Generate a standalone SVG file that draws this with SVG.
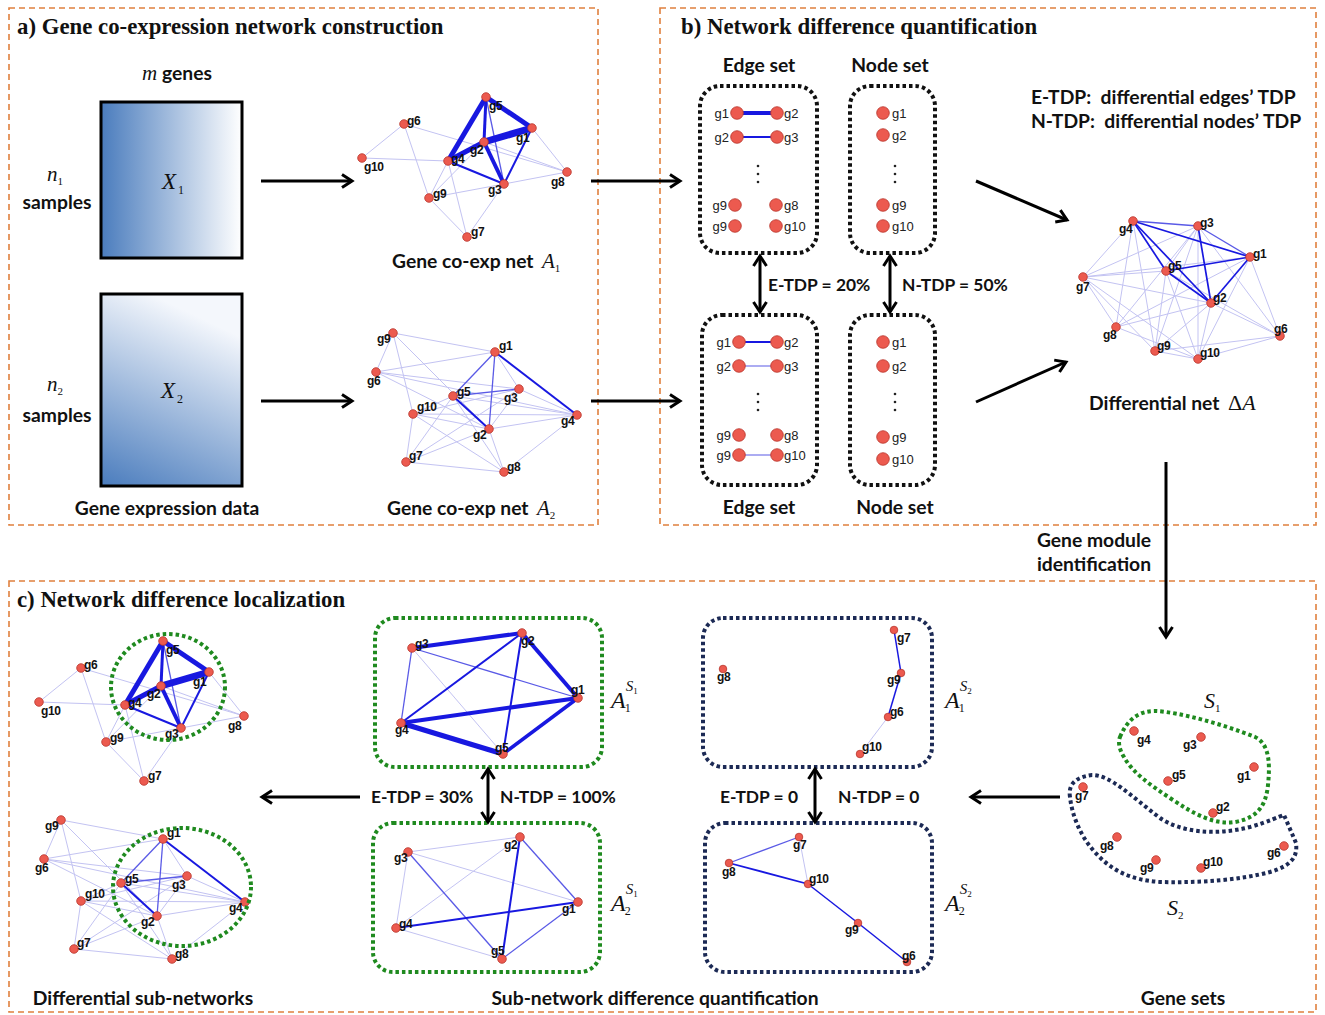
<svg xmlns="http://www.w3.org/2000/svg" xmlns:xlink="http://www.w3.org/1999/xlink" width="1325" height="1015" viewBox="0 0 1325 1015">
<style>
.panel{fill:none;stroke:#e0803e;stroke-width:1.6;stroke-dasharray:6 4}
.title{font-family:"Liberation Serif",serif;font-weight:bold;font-size:22.8px;fill:#111}
.cap{font-family:Lato,"Liberation Sans",sans-serif;font-weight:bold;font-size:19.3px;fill:#111}
.tdp{font-family:Lato,"Liberation Sans",sans-serif;font-weight:bold;font-size:17.4px;fill:#111}
.it{font-family:"Liberation Serif",serif;font-style:italic;fill:#111}
.sub{font-family:"Liberation Serif",serif;font-style:normal;fill:#111}
.nd{fill:#ec5a4f;stroke:#b8352c;stroke-width:0.8}
.nl{font-family:"Liberation Sans Narrow","Liberation Sans",sans-serif;font-weight:bold;font-size:12px;fill:#111;letter-spacing:-0.4px}
.sl{font-family:"Liberation Sans",sans-serif;font-size:13px;fill:#222}
.lt{stroke:#c3c3f2;stroke-width:1}
.md{stroke:#5a5ae6;stroke-width:1.3}
.st{stroke:#1818e0}
.box{fill:none;stroke:#111;stroke-width:4;stroke-dasharray:3.5 3}
.gbox{fill:none;stroke:#1f8a1f;stroke-width:4;stroke-dasharray:3.5 3}
.nbox{fill:none;stroke:#1c2a55;stroke-width:4;stroke-dasharray:3.5 3}
.arr{stroke:#000;stroke-width:3;fill:none}
</style>
<defs>
<linearGradient id="gx1" x1="0" y1="0" x2="1" y2="0">
<stop offset="0" stop-color="#4a7cbd"/><stop offset="1" stop-color="#ffffff"/>
</linearGradient>
<linearGradient id="gx2" x1="0" y1="1" x2="0.35" y2="0">
<stop offset="0" stop-color="#4a7cbd"/><stop offset="1" stop-color="#f4f7fc"/>
</linearGradient>
<marker id="ah" viewBox="0 0 16 16" refX="13" refY="8" markerWidth="16" markerHeight="16" markerUnits="userSpaceOnUse" orient="auto-start-reverse">
<path d="M3,1.5 L13,8 L3,14.5" fill="none" stroke="#000" stroke-width="3"/>
</marker>
</defs>
<rect width="1325" height="1015" fill="#fff"/>

<!-- panels -->
<g id="panels">
<rect class="panel" x="9" y="8" width="589" height="517"/>
<rect class="panel" x="660" y="8" width="656" height="517"/>
<rect class="panel" x="9" y="581" width="1307" height="431"/>
<text class="title" x="17" y="34">a) Gene co-expression network construction</text>
<text class="title" x="681" y="34">b) Network difference quantification</text>
<text class="title" x="17" y="607">c) Network difference localization</text>
</g>

<!-- panel a: matrices -->
<g id="matrixX1">
<rect x="101" y="102" width="141" height="156" fill="url(#gx1)" stroke="#000" stroke-width="3"/>
<text class="it" x="162" y="189" font-size="23">X<tspan class="sub" font-size="12" dx="2" dy="5">1</tspan></text>
<text x="177" y="80" class="cap" text-anchor="middle"><tspan class="it" font-size="21" font-weight="normal">m</tspan> genes</text>
<text class="it" x="47" y="181" font-size="21">n<tspan class="sub" font-size="11" dy="4">1</tspan></text>
<text class="cap" x="57" y="209" text-anchor="middle">samples</text>
</g>
<g id="matrixX2">
<rect x="101" y="294" width="141" height="192" fill="url(#gx2)" stroke="#000" stroke-width="3"/>
<text class="it" x="161" y="398" font-size="23">X<tspan class="sub" font-size="12" dx="2" dy="5">2</tspan></text>
<text class="it" x="47" y="391" font-size="21">n<tspan class="sub" font-size="11" dy="4">2</tspan></text>
<text class="cap" x="57" y="422" text-anchor="middle">samples</text>
<text class="cap" x="167" y="515" text-anchor="middle">Gene expression data</text>
</g>

<!-- network A1 -->
<g id="netA1">
<g id="netA1g">
<line class="lt" x1="404" y1="124" x2="362" y2="158"/>
<line class="lt" x1="362" y1="158" x2="448" y2="161"/>
<line class="lt" x1="404" y1="124" x2="429" y2="198"/>
<line class="lt" x1="404" y1="124" x2="567" y2="172"/>
<line class="lt" x1="448" y1="161" x2="429" y2="198"/>
<line class="lt" x1="429" y1="198" x2="504" y2="184"/>
<line class="lt" x1="429" y1="198" x2="467" y2="237"/>
<line class="lt" x1="448" y1="161" x2="467" y2="237"/>
<line class="lt" x1="504" y1="184" x2="467" y2="237"/>
<line class="lt" x1="504" y1="184" x2="567" y2="172"/>
<line class="lt" x1="532" y1="128" x2="567" y2="172"/>
<line class="lt" x1="484" y1="142" x2="567" y2="172"/>
<line class="lt" x1="429" y1="198" x2="484" y2="142"/>
<line class="md" x1="486" y1="97" x2="504" y2="184"/>
<line class="st" stroke-width="2" x1="448" y1="161" x2="504" y2="184"/>
<line class="st" stroke-width="2" x1="532" y1="128" x2="504" y2="184"/>
<line class="st" stroke-width="3" x1="486" y1="97" x2="484" y2="142"/>
<line class="st" stroke-width="4" x1="484" y1="142" x2="504" y2="184"/>
<line class="st" stroke-width="5" x1="486" y1="97" x2="448" y2="161"/>
<line class="st" stroke-width="5" x1="486" y1="97" x2="532" y2="128"/>
<line class="st" stroke-width="5" x1="484" y1="142" x2="448" y2="161"/>
<line class="st" stroke-width="7" x1="484" y1="142" x2="532" y2="128"/>
<circle class="nd" cx="486" cy="97" r="4.3"/><circle class="nd" cx="532" cy="128" r="4.3"/>
<circle class="nd" cx="484" cy="142" r="4.3"/><circle class="nd" cx="448" cy="161" r="4.3"/>
<circle class="nd" cx="504" cy="184" r="4.3"/><circle class="nd" cx="567" cy="172" r="4.3"/>
<circle class="nd" cx="404" cy="124" r="4.3"/><circle class="nd" cx="362" cy="158" r="4.3"/>
<circle class="nd" cx="429" cy="198" r="4.3"/><circle class="nd" cx="467" cy="237" r="4.3"/>
<text class="nl" x="489" y="110">g5</text><text class="nl" x="516" y="142">g1</text>
<text class="nl" x="470" y="154">g2</text><text class="nl" x="451" y="163">g4</text>
<text class="nl" x="488" y="194">g3</text><text class="nl" x="551" y="186">g8</text>
<text class="nl" x="407" y="125">g6</text><text class="nl" x="364" y="171">g10</text>
<text class="nl" x="433" y="198">g9</text><text class="nl" x="471" y="236">g7</text>
</g>
<text class="cap" x="392" y="268">Gene co-exp net</text>
<text class="it" x="542" y="268" font-size="21">A<tspan class="sub" font-size="11" dy="4">1</tspan></text>
</g>

<!-- network A2 -->
<g id="netA2">
<g id="netA2g">
<line class="lt" x1="393" y1="333" x2="495" y2="352"/>
<line class="lt" x1="393" y1="333" x2="376" y2="372"/>
<line class="lt" x1="393" y1="333" x2="413" y2="414"/>
<line class="lt" x1="393" y1="333" x2="489" y2="429"/>
<line class="lt" x1="376" y1="372" x2="495" y2="352"/>
<line class="lt" x1="376" y1="372" x2="519" y2="389"/>
<line class="lt" x1="376" y1="372" x2="489" y2="429"/>
<line class="lt" x1="376" y1="372" x2="577" y2="415"/>
<line class="lt" x1="413" y1="414" x2="519" y2="389"/>
<line class="lt" x1="413" y1="414" x2="577" y2="415"/>
<line class="lt" x1="413" y1="414" x2="489" y2="429"/>
<line class="lt" x1="413" y1="414" x2="406" y2="462"/>
<line class="lt" x1="413" y1="414" x2="504" y2="472"/>
<line class="lt" x1="406" y1="462" x2="453" y2="396"/>
<line class="lt" x1="406" y1="462" x2="519" y2="389"/>
<line class="lt" x1="406" y1="462" x2="504" y2="472"/>
<line class="lt" x1="406" y1="462" x2="489" y2="429"/>
<line class="lt" x1="489" y1="429" x2="504" y2="472"/>
<line class="lt" x1="453" y1="396" x2="504" y2="472"/>
<line class="lt" x1="577" y1="415" x2="504" y2="472"/>
<line class="lt" x1="489" y1="429" x2="577" y2="415"/>
<line class="lt" x1="519" y1="389" x2="577" y2="415"/>
<line class="lt" x1="495" y1="352" x2="519" y2="389"/>
<line class="lt" x1="453" y1="396" x2="577" y2="415"/>
<line class="lt" x1="453" y1="396" x2="413" y2="414"/>
<line class="lt" x1="519" y1="389" x2="489" y2="429"/>
<line class="md" x1="495" y1="352" x2="453" y2="396"/>
<line class="md" x1="495" y1="352" x2="489" y2="429"/>
<line class="md" x1="453" y1="396" x2="519" y2="389"/>
<line class="st" stroke-width="2" x1="495" y1="352" x2="577" y2="415"/>
<line class="st" stroke-width="2" x1="453" y1="396" x2="489" y2="429"/>
<circle class="nd" cx="393" cy="333" r="4.3"/><circle class="nd" cx="495" cy="352" r="4.3"/>
<circle class="nd" cx="376" cy="372" r="4.3"/><circle class="nd" cx="453" cy="396" r="4.3"/>
<circle class="nd" cx="519" cy="389" r="4.3"/><circle class="nd" cx="413" cy="414" r="4.3"/>
<circle class="nd" cx="577" cy="415" r="4.3"/><circle class="nd" cx="489" cy="429" r="4.3"/>
<circle class="nd" cx="406" cy="462" r="4.3"/><circle class="nd" cx="504" cy="472" r="4.3"/>
<text class="nl" x="377" y="343">g9</text><text class="nl" x="499" y="350">g1</text>
<text class="nl" x="367" y="385">g6</text><text class="nl" x="457" y="396">g5</text>
<text class="nl" x="504" y="402">g3</text><text class="nl" x="417" y="411">g10</text>
<text class="nl" x="561" y="425">g4</text><text class="nl" x="473" y="439">g2</text>
<text class="nl" x="409" y="460">g7</text><text class="nl" x="507" y="471">g8</text>
</g>
<text class="cap" x="387" y="515">Gene co-exp net</text>
<text class="it" x="537" y="515" font-size="21">A<tspan class="sub" font-size="11" dy="4">2</tspan></text>
</g>

<!-- panel b: sets -->
<g id="edgeSetTop">
<text class="cap" x="759" y="72" text-anchor="middle">Edge set</text>
<rect class="box" x="700" y="86" width="117" height="167" rx="20"/>
<line stroke="#1818e0" stroke-width="4" x1="737" y1="113" x2="777" y2="113"/>
<line stroke="#1818e0" stroke-width="2" x1="737" y1="137" x2="777" y2="137"/>
<circle class="nd" cx="737" cy="113" r="6.3"/><circle class="nd" cx="777" cy="113" r="6.3"/>
<circle class="nd" cx="737" cy="137" r="6.3"/><circle class="nd" cx="777" cy="137" r="6.3"/>
<circle class="nd" cx="735" cy="205" r="6.3"/><circle class="nd" cx="776" cy="205" r="6.3"/>
<circle class="nd" cx="735" cy="226" r="6.3"/><circle class="nd" cx="776" cy="226" r="6.3"/>
<text class="sl" x="729" y="118" text-anchor="end">g1</text><text class="sl" x="784" y="118">g2</text>
<text class="sl" x="729" y="142" text-anchor="end">g2</text><text class="sl" x="784" y="142">g3</text>
<text class="sl" x="727" y="210" text-anchor="end">g9</text><text class="sl" x="784" y="210">g8</text>
<text class="sl" x="727" y="231" text-anchor="end">g9</text><text class="sl" x="784" y="231">g10</text>
<circle cx="758" cy="166" r="1.3" fill="#222"/><circle cx="758" cy="174" r="1.3" fill="#222"/><circle cx="758" cy="182" r="1.3" fill="#222"/>
</g>
<g id="nodeSetTop">
<text class="cap" x="890" y="72" text-anchor="middle">Node set</text>
<rect class="box" x="850" y="86" width="85" height="167" rx="20"/>
<circle class="nd" cx="883" cy="113" r="6.3"/><circle class="nd" cx="883" cy="135" r="6.3"/>
<circle class="nd" cx="883" cy="205" r="6.3"/><circle class="nd" cx="883" cy="226" r="6.3"/>
<text class="sl" x="892" y="118">g1</text><text class="sl" x="892" y="140">g2</text>
<text class="sl" x="892" y="210">g9</text><text class="sl" x="892" y="231">g10</text>
<circle cx="895" cy="166" r="1.3" fill="#222"/><circle cx="895" cy="174" r="1.3" fill="#222"/><circle cx="895" cy="182" r="1.3" fill="#222"/>
</g>
<g id="edgeSetBottom">
<rect class="box" x="702" y="315" width="115" height="170" rx="20"/>
<line stroke="#1818e0" stroke-width="2" x1="739" y1="342" x2="777" y2="342"/>
<line stroke="#5a5ae6" stroke-width="1.2" x1="739" y1="366" x2="777" y2="366"/>
<line stroke="#5a5ae6" stroke-width="1.2" x1="739" y1="455" x2="777" y2="455"/>
<circle class="nd" cx="739" cy="342" r="6.3"/><circle class="nd" cx="777" cy="342" r="6.3"/>
<circle class="nd" cx="739" cy="366" r="6.3"/><circle class="nd" cx="777" cy="366" r="6.3"/>
<circle class="nd" cx="739" cy="435" r="6.3"/><circle class="nd" cx="777" cy="435" r="6.3"/>
<circle class="nd" cx="739" cy="455" r="6.3"/><circle class="nd" cx="777" cy="455" r="6.3"/>
<text class="sl" x="731" y="347" text-anchor="end">g1</text><text class="sl" x="784" y="347">g2</text>
<text class="sl" x="731" y="371" text-anchor="end">g2</text><text class="sl" x="784" y="371">g3</text>
<text class="sl" x="731" y="440" text-anchor="end">g9</text><text class="sl" x="784" y="440">g8</text>
<text class="sl" x="731" y="460" text-anchor="end">g9</text><text class="sl" x="784" y="460">g10</text>
<circle cx="758" cy="394" r="1.3" fill="#222"/><circle cx="758" cy="402" r="1.3" fill="#222"/><circle cx="758" cy="410" r="1.3" fill="#222"/>
<text class="cap" x="759" y="514" text-anchor="middle">Edge set</text>
</g>
<g id="nodeSetBottom">
<rect class="box" x="850" y="315" width="85" height="170" rx="20"/>
<circle class="nd" cx="883" cy="342" r="6.3"/><circle class="nd" cx="883" cy="366" r="6.3"/>
<circle class="nd" cx="883" cy="437" r="6.3"/><circle class="nd" cx="883" cy="459" r="6.3"/>
<text class="sl" x="892" y="347">g1</text><text class="sl" x="892" y="371">g2</text>
<text class="sl" x="892" y="442">g9</text><text class="sl" x="892" y="464">g10</text>
<circle cx="895" cy="394" r="1.3" fill="#222"/><circle cx="895" cy="402" r="1.3" fill="#222"/><circle cx="895" cy="410" r="1.3" fill="#222"/>
<text class="cap" x="895" y="514" text-anchor="middle">Node set</text>
</g>
<g id="legend">
<text class="cap" x="1031" y="104">E-TDP:&#160; differential edges’ TDP</text>
<text class="cap" x="1031" y="128">N-TDP:&#160; differential nodes’ TDP</text>
</g>

<!-- differential net -->
<g id="diffNet">
<line class="lt" x1="1083" y1="277" x2="1133" y2="221"/>
<line class="lt" x1="1083" y1="277" x2="1198" y2="226"/>
<line class="lt" x1="1083" y1="277" x2="1166" y2="271"/>
<line class="lt" x1="1083" y1="277" x2="1250" y2="257"/>
<line class="lt" x1="1083" y1="277" x2="1211" y2="303"/>
<line class="lt" x1="1083" y1="277" x2="1116" y2="327"/>
<line class="lt" x1="1083" y1="277" x2="1155" y2="351"/>
<line class="lt" x1="1083" y1="277" x2="1198" y2="359"/>
<line class="lt" x1="1116" y1="327" x2="1198" y2="226"/>
<line class="lt" x1="1116" y1="327" x2="1211" y2="303"/>
<line class="lt" x1="1116" y1="327" x2="1198" y2="359"/>
<line class="lt" x1="1116" y1="327" x2="1250" y2="257"/>
<line class="lt" x1="1116" y1="327" x2="1133" y2="221"/>
<line class="lt" x1="1155" y1="351" x2="1133" y2="221"/>
<line class="lt" x1="1155" y1="351" x2="1198" y2="226"/>
<line class="lt" x1="1155" y1="351" x2="1166" y2="271"/>
<line class="lt" x1="1155" y1="351" x2="1211" y2="303"/>
<line class="lt" x1="1155" y1="351" x2="1198" y2="359"/>
<line class="lt" x1="1155" y1="351" x2="1280" y2="336"/>
<line class="lt" x1="1198" y1="359" x2="1280" y2="336"/>
<line class="lt" x1="1198" y1="359" x2="1166" y2="271"/>
<line class="lt" x1="1198" y1="359" x2="1198" y2="226"/>
<line class="lt" x1="1198" y1="359" x2="1211" y2="303"/>
<line class="lt" x1="1198" y1="359" x2="1250" y2="257"/>
<line class="lt" x1="1280" y1="336" x2="1250" y2="257"/>
<line class="lt" x1="1280" y1="336" x2="1166" y2="271"/>
<line class="lt" x1="1280" y1="336" x2="1211" y2="303"/>
<line class="lt" x1="1280" y1="336" x2="1198" y2="226"/>
<line class="lt" x1="1166" y1="271" x2="1198" y2="226"/>
<line class="md" x1="1133" y1="221" x2="1198" y2="226"/>
<line class="md" x1="1198" y1="226" x2="1250" y2="257"/>
<line class="st" stroke-width="1.7" x1="1133" y1="221" x2="1166" y2="271"/>
<line class="st" stroke-width="1.7" x1="1133" y1="221" x2="1211" y2="303"/>
<line class="st" stroke-width="1.7" x1="1133" y1="221" x2="1250" y2="257"/>
<line class="st" stroke-width="1.7" x1="1166" y1="271" x2="1250" y2="257"/>
<line class="st" stroke-width="1.7" x1="1166" y1="271" x2="1211" y2="303"/>
<line class="st" stroke-width="1.7" x1="1198" y1="226" x2="1211" y2="303"/>
<line class="st" stroke-width="1.7" x1="1250" y1="257" x2="1211" y2="303"/>
<circle class="nd" cx="1133" cy="221" r="4.3"/><circle class="nd" cx="1198" cy="226" r="4.3"/>
<circle class="nd" cx="1250" cy="257" r="4.3"/><circle class="nd" cx="1166" cy="271" r="4.3"/>
<circle class="nd" cx="1083" cy="277" r="4.3"/><circle class="nd" cx="1211" cy="303" r="4.3"/>
<circle class="nd" cx="1116" cy="327" r="4.3"/><circle class="nd" cx="1280" cy="336" r="4.3"/>
<circle class="nd" cx="1155" cy="351" r="4.3"/><circle class="nd" cx="1198" cy="359" r="4.3"/>
<text class="nl" x="1119" y="233">g4</text><text class="nl" x="1200" y="227">g3</text>
<text class="nl" x="1253" y="258">g1</text><text class="nl" x="1168" y="270">g5</text>
<text class="nl" x="1076" y="291">g7</text><text class="nl" x="1213" y="302">g2</text>
<text class="nl" x="1103" y="339">g8</text><text class="nl" x="1274" y="333">g6</text>
<text class="nl" x="1157" y="350">g9</text><text class="nl" x="1200" y="357">g10</text>
<text class="cap" x="1089" y="410">Differential net</text>
<text x="1228" y="410" font-family="Liberation Serif,serif" font-size="22" fill="#111">Δ<tspan font-style="italic">A</tspan></text>
</g>

<!-- panel c -->
<g id="subnetTop">
<use xlink:href="#netA1g" href="#netA1g" transform="translate(-323,544)"/>
<ellipse cx="168" cy="687" rx="57" ry="53" fill="none" stroke="#1f8a1f" stroke-width="4" stroke-dasharray="3.5 3"/>
</g>
<g id="subnetBottom">
<use xlink:href="#netA2g" href="#netA2g" transform="translate(-332,487)"/>
<ellipse cx="182" cy="887" rx="69" ry="59" fill="none" stroke="#1f8a1f" stroke-width="4" stroke-dasharray="3.5 3"/>
<text class="cap" x="143" y="1005" text-anchor="middle">Differential sub-networks</text>
</g>

<g id="A1S1">
<rect class="gbox" x="375" y="618" width="227" height="149" rx="20"/>
<line class="lt" x1="412" y1="648" x2="503" y2="754"/>
<line class="md" x1="412" y1="648" x2="578" y2="698"/>
<line class="md" x1="412" y1="648" x2="401" y2="723"/>
<line class="st" stroke-width="2" x1="401" y1="723" x2="522" y2="633"/>
<line class="st" stroke-width="2" x1="522" y1="633" x2="503" y2="754"/>
<line class="st" stroke-width="4" x1="412" y1="648" x2="522" y2="633"/>
<line class="st" stroke-width="4" x1="522" y1="633" x2="578" y2="698"/>
<line class="st" stroke-width="3.5" x1="578" y1="698" x2="503" y2="754"/>
<line class="st" stroke-width="4" x1="401" y1="723" x2="578" y2="698"/>
<line class="st" stroke-width="5" x1="401" y1="723" x2="503" y2="754"/>
<circle class="nd" cx="412" cy="648" r="4.3"/><circle class="nd" cx="522" cy="633" r="4.3"/>
<circle class="nd" cx="578" cy="698" r="4.3"/><circle class="nd" cx="401" cy="723" r="4.3"/>
<circle class="nd" cx="503" cy="754" r="4.3"/>
<text class="nl" x="415" y="648">g3</text><text class="nl" x="521" y="645">g2</text>
<text class="nl" x="571" y="694">g1</text><text class="nl" x="395" y="734">g4</text>
<text class="nl" x="495" y="752">g5</text>
<text class="it" x="611" y="708" font-size="24">A<tspan class="sub" font-size="12" dy="4" dx="-1">1</tspan><tspan font-size="15" dx="-5" dy="-21">S</tspan><tspan class="sub" font-size="9" dy="3">1</tspan></text>
</g>
<g id="A2S1">
<rect class="gbox" x="373" y="823" width="227" height="149" rx="20"/>
<line class="lt" x1="408" y1="852" x2="520" y2="837"/>
<line class="lt" x1="408" y1="852" x2="578" y2="902"/>
<line class="lt" x1="396" y1="928" x2="520" y2="837"/>
<line class="lt" x1="408" y1="852" x2="396" y2="928"/>
<line class="lt" x1="396" y1="928" x2="502" y2="959"/>
<line class="md" x1="520" y1="837" x2="578" y2="902"/>
<line class="md" x1="408" y1="852" x2="502" y2="959"/>
<line class="md" x1="502" y1="959" x2="578" y2="902"/>
<line class="st" stroke-width="2" x1="396" y1="928" x2="578" y2="902"/>
<line class="st" stroke-width="2" x1="520" y1="837" x2="502" y2="959"/>
<circle class="nd" cx="520" cy="837" r="4.3"/><circle class="nd" cx="408" cy="852" r="4.3"/>
<circle class="nd" cx="578" cy="902" r="4.3"/><circle class="nd" cx="396" cy="928" r="4.3"/>
<circle class="nd" cx="502" cy="959" r="4.3"/>
<text class="nl" x="504" y="849">g2</text><text class="nl" x="394" y="862">g3</text>
<text class="nl" x="562" y="913">g1</text><text class="nl" x="399" y="928">g4</text>
<text class="nl" x="491" y="955">g5</text>
<text class="it" x="611" y="911" font-size="24">A<tspan class="sub" font-size="12" dy="4" dx="-1">2</tspan><tspan font-size="15" dx="-5" dy="-21">S</tspan><tspan class="sub" font-size="9" dy="3">1</tspan></text>
</g>
<g id="A1S2">
<rect class="nbox" x="703" y="618" width="229" height="149" rx="20"/>
<line class="lt" x1="888" y1="717" x2="860" y2="754"/>
<line class="st" stroke-width="1.5" x1="894" y1="630" x2="901" y2="673"/>
<line class="st" stroke-width="1.5" x1="901" y1="673" x2="888" y2="717"/>
<circle class="nd" cx="723" cy="669" r="3.8"/><circle class="nd" cx="894" cy="630" r="3.8"/>
<circle class="nd" cx="901" cy="673" r="3.8"/><circle class="nd" cx="888" cy="717" r="3.8"/>
<circle class="nd" cx="860" cy="754" r="3.8"/>
<text class="nl" x="717" y="681" font-size="10">g8</text><text class="nl" x="897" y="642" font-size="10">g7</text>
<text class="nl" x="887" y="684" font-size="10">g9</text><text class="nl" x="890" y="716" font-size="10">g6</text>
<text class="nl" x="862" y="751" font-size="10">g10</text>
<text class="it" x="945" y="708" font-size="24">A<tspan class="sub" font-size="12" dy="4" dx="-1">1</tspan><tspan font-size="15" dx="-5" dy="-21">S</tspan><tspan class="sub" font-size="9" dy="3">2</tspan></text>
</g>
<g id="A2S2">
<rect class="nbox" x="705" y="823" width="227" height="149" rx="20"/>
<line class="lt" x1="799" y1="837" x2="808" y2="884"/>
<line class="md" x1="729" y1="863" x2="799" y2="837"/>
<line class="st" stroke-width="1.8" x1="729" y1="863" x2="808" y2="884"/>
<line class="st" stroke-width="1.5" x1="808" y1="884" x2="858" y2="923"/>
<line class="st" stroke-width="1.5" x1="858" y1="923" x2="907" y2="962"/>
<circle class="nd" cx="799" cy="837" r="3.8"/><circle class="nd" cx="729" cy="863" r="3.8"/>
<circle class="nd" cx="808" cy="884" r="3.8"/><circle class="nd" cx="858" cy="923" r="3.8"/>
<circle class="nd" cx="907" cy="962" r="3.8"/>
<text class="nl" x="793" y="849" font-size="10">g7</text><text class="nl" x="722" y="876" font-size="10">g8</text>
<text class="nl" x="809" y="883" font-size="10">g10</text><text class="nl" x="845" y="934" font-size="10">g9</text>
<text class="nl" x="902" y="960" font-size="10">g6</text>
<text class="it" x="945" y="911" font-size="24">A<tspan class="sub" font-size="12" dy="4" dx="-1">2</tspan><tspan font-size="15" dx="-5" dy="-21">S</tspan><tspan class="sub" font-size="9" dy="3">2</tspan></text>
</g>
<g id="geneSets">
<path d="M1120,737 C1128,718 1140,711 1155,711 C1180,712 1225,725 1255,737 C1270,744 1270,765 1268,785 C1266,805 1258,818 1235,822 C1215,825 1195,815 1170,798 C1150,785 1132,772 1124,757 C1119,749 1118,742 1120,737 Z" fill="none" stroke="#1f8a1f" stroke-width="4" stroke-dasharray="3.5 3"/>
<path d="M1070,797 C1068,785 1075,777 1092,775 C1110,775 1130,795 1160,818 C1180,832 1215,836 1250,827 C1268,822 1280,816 1284,815 L1296,843 C1298,858 1290,866 1270,872 C1240,880 1200,883 1160,882 C1130,880 1110,870 1093,850 C1080,835 1072,815 1070,797 Z" fill="none" stroke="#1c2a55" stroke-width="4" stroke-dasharray="3.5 3"/>
<circle class="nd" cx="1134" cy="731" r="4.3"/><circle class="nd" cx="1201" cy="737" r="4.3"/>
<circle class="nd" cx="1168" cy="781" r="4.3"/><circle class="nd" cx="1254" cy="767" r="4.3"/>
<circle class="nd" cx="1213" cy="813" r="4.3"/><circle class="nd" cx="1083" cy="787" r="4.3"/>
<circle class="nd" cx="1117" cy="837" r="4.3"/><circle class="nd" cx="1156" cy="860" r="4.3"/>
<circle class="nd" cx="1201" cy="868" r="4.3"/><circle class="nd" cx="1284" cy="846" r="4.3"/>
<text class="nl" x="1137" y="744">g4</text><text class="nl" x="1183" y="749">g3</text>
<text class="nl" x="1172" y="779">g5</text><text class="nl" x="1237" y="780">g1</text>
<text class="nl" x="1216" y="811">g2</text><text class="nl" x="1075" y="800">g7</text>
<text class="nl" x="1100" y="850">g8</text><text class="nl" x="1140" y="872">g9</text>
<text class="nl" x="1203" y="866">g10</text><text class="nl" x="1267" y="857">g6</text>
<text class="it" x="1204" y="708" font-size="22">S<tspan class="sub" font-size="11" dy="4">1</tspan></text>
<text class="it" x="1167" y="915" font-size="22">S<tspan class="sub" font-size="11" dy="4">2</tspan></text>
<text class="cap" x="1183" y="1005" text-anchor="middle">Gene sets</text>
</g>

<text class="cap" x="655" y="1005" text-anchor="middle">Sub-network difference quantification</text>

<!-- connectors -->
<g id="connectors">
<line class="arr" x1="261" y1="181" x2="352" y2="181" marker-end="url(#ah)"/>
<line class="arr" x1="261" y1="401" x2="352" y2="401" marker-end="url(#ah)"/>
<line class="arr" x1="591" y1="181" x2="680" y2="181" marker-end="url(#ah)"/>
<line class="arr" x1="591" y1="401" x2="680" y2="401" marker-end="url(#ah)"/>
<line class="arr" x1="760" y1="256" x2="760" y2="312" marker-start="url(#ah)" marker-end="url(#ah)"/>
<line class="arr" x1="890" y1="256" x2="890" y2="312" marker-start="url(#ah)" marker-end="url(#ah)"/>
<text class="tdp" x="768" y="291">E-TDP = 20%</text>
<text class="tdp" x="902" y="291">N-TDP = 50%</text>
<line class="arr" x1="976" y1="181" x2="1067" y2="220" marker-end="url(#ah)"/>
<line class="arr" x1="976" y1="402" x2="1066" y2="362" marker-end="url(#ah)"/>
<line class="arr" x1="1166" y1="462" x2="1166" y2="637" marker-end="url(#ah)"/>
<text class="cap" x="1094" y="547" text-anchor="middle">Gene module</text>
<text class="cap" x="1094" y="571" text-anchor="middle">identification</text>
<line class="arr" x1="1060" y1="797" x2="971" y2="797" marker-end="url(#ah)"/>
<line class="arr" x1="815" y1="769" x2="815" y2="822" marker-start="url(#ah)" marker-end="url(#ah)"/>
<text class="tdp" x="720" y="803">E-TDP = 0</text>
<text class="tdp" x="838" y="803">N-TDP = 0</text>
<line class="arr" x1="488" y1="769" x2="488" y2="822" marker-start="url(#ah)" marker-end="url(#ah)"/>
<text class="tdp" x="371" y="803">E-TDP = 30%</text>
<text class="tdp" x="500" y="803">N-TDP = 100%</text>
<line class="arr" x1="360" y1="797" x2="262" y2="797" marker-end="url(#ah)"/>
</g>
</svg>
